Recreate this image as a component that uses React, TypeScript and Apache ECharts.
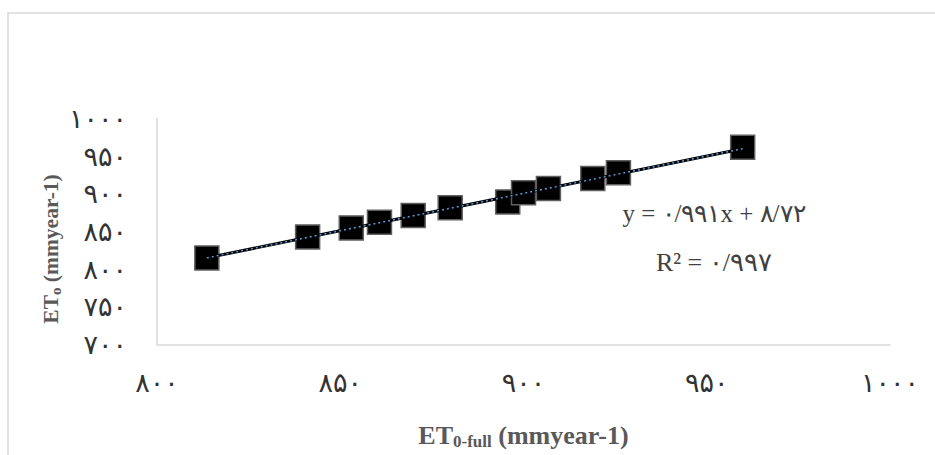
import React, { useEffect, useRef } from "react";
import * as echarts from "echarts";

const xValues = [813.6, 841.1, 853.0, 860.7, 869.9, 880.0, 895.7, 900.0, 906.8, 918.9, 925.9, 959.8];
const yValues = [814.9, 842.8, 854.8, 862.3, 871.3, 881.4, 889.3, 901.3, 907.2, 920.5, 927.9, 961.7];
const xTicks = [800, 850, 900, 950, 1000];
const xTickLabels = ["۸۰۰", "۸۵۰", "۹۰۰", "۹۵۰", "۱۰۰۰"];
const yTicks = [700, 750, 800, 850, 900, 950, 1000];
const yTickLabels = ["۷۰۰", "۷۵۰", "۸۰۰", "۸۵۰", "۹۰۰", "۹۵۰", "۱۰۰۰"];
const trendSlope = 0.991;
const trendIntercept = 8.72;
const equationText = "y = ۰/۹۹۱x + ۸/۷۲";
const r2Text = "R² = ۰/۹۹۷";
const xTitle = "{a|ET}{b|0-full}{a| (mmyear-1)}";
const yTitle = "{a|ET}{b|o}{a| (mmyear-1)}";

export default function App() {
  const ref = useRef<HTMLDivElement>(null);
  useEffect(() => {
    document.body.style.margin = "0";
    if (!ref.current) return;
    const chart = echarts.init(ref.current, undefined, { renderer: "svg" });
    const points = xValues.map((x, i) => [x, yValues[i]]);
    const xmin = Math.min(...xValues);
    const xmax = Math.max(...xValues);
    const trend = [
      [xmin, trendSlope * xmin + trendIntercept],
      [xmax, trendSlope * xmax + trendIntercept],
    ];
    const labelFor = (ticks: number[], labels: string[]) => (v: number) => {
      const i = ticks.findIndex((t) => Math.abs(t - v) < 1e-6);
      return i >= 0 ? labels[i] : "";
    };
    const xRich = {
      a: { fontFamily: "Liberation Serif", fontWeight: "bold", fontSize: 26, fill: "#595959", color: "#595959" },
      b: { fontFamily: "Liberation Serif", fontWeight: "bold", fontSize: 17, fill: "#595959", color: "#595959", padding: [12, 0, 0, 0] },
    };
    const yRich = {
      a: { fontFamily: "Liberation Serif", fontWeight: "bold", fontSize: 21.5, fill: "#595959", color: "#595959" },
      b: { fontFamily: "Liberation Serif", fontWeight: "bold", fontSize: 15, fill: "#595959", color: "#595959", padding: [10, 0, 0, 0] },
    };
    chart.setOption({
      animation: false,
      backgroundColor: "#fff",
      grid: { left: 157, top: 118.5, right: 45, bottom: 110.5, containLabel: false },
      xAxis: {
        type: "value",
        min: 800,
        max: 1000,
        interval: 50,
        axisLine: { show: true, lineStyle: { color: "#d9d9d9", width: 1.5 } },
        axisTick: { show: false },
        splitLine: { show: false },
        axisLabel: {
          formatter: labelFor(xTicks, xTickLabels),
          color: "#333333",
          fontSize: 27,
          fontFamily: "DejaVu Sans",
          margin: 24,
        },
        name: xTitle,
        nameLocation: "middle",
        nameGap: 76,
        nameTextStyle: { rich: xRich },
      },
      yAxis: {
        type: "value",
        min: 700,
        max: 1000,
        interval: 50,
        axisLine: { show: true, lineStyle: { color: "#d9d9d9", width: 1.5 } },
        axisTick: { show: false },
        splitLine: { show: false },
        axisLabel: {
          formatter: labelFor(yTicks, yTickLabels),
          color: "#333333",
          fontSize: 27,
          fontFamily: "DejaVu Sans",
          margin: 30,
        },
      },
      graphic: [
        {
          type: "rect",
          shape: { x: 8, y: 13, width: 960, height: 480 },
          style: { fill: "none", stroke: "#d9d9d9", lineWidth: 1.5 },
          silent: true,
          z: -10,
        },
        {
          type: "text",
          x: 51,
          y: 249,
          rotation: Math.PI / 2,
          style: {
            text: yTitle,
            rich: yRich,
            align: "center",
            verticalAlign: "middle",
          },
          z: 100,
        },
        {
          type: "text",
          x: 714,
          y: 213,
          style: {
            text: equationText,
            fontFamily: "Liberation Serif",
            fontSize: 25,
            fill: "#404040",
            align: "center",
            verticalAlign: "middle",
          },
          z: 100,
        },
        {
          type: "text",
          x: 714,
          y: 262,
          style: {
            text: r2Text,
            fontFamily: "Liberation Serif",
            fontSize: 26,
            fill: "#404040",
            align: "center",
            verticalAlign: "middle",
          },
          z: 100,
        },
      ],
      series: [
        {
          type: "scatter",
          data: points,
          symbol: "rect",
          symbolSize: 24,
          itemStyle: { color: "#000", borderColor: "#5f5f5f", borderWidth: 1.5, opacity: 1 },
          z: 2,
        },
        {
          type: "line",
          data: trend,
          symbol: "none",
          lineStyle: { color: "#000", width: 3 },
          z: 3,
        },
        {
          type: "line",
          data: trend,
          symbol: "none",
          lineStyle: { color: "#5b9bd5", width: 1.5, type: [2, 3] },
          z: 4,
        },
      ],
    });
    return () => chart.dispose();
  }, []);
  return <div ref={ref} style={{ width: 935, height: 455 }} />;
}
